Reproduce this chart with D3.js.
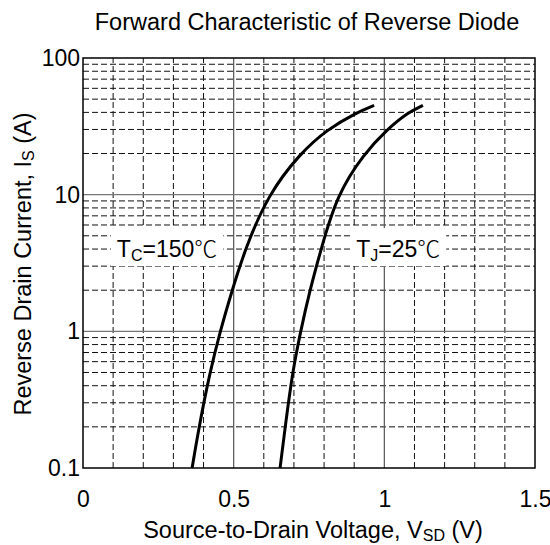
<!DOCTYPE html>
<html>
<head>
<meta charset="utf-8">
<script src="https://cdn.jsdelivr.net/npm/d3@7"></script>
<style>
  body { margin: 0; background: #fff; }
  text { font-family: Arial, "Liberation Sans", sans-serif; }
</style>
</head>
<body>
<script>
const width = 550
const height = 545
const margin = ({top: 58, right: 15, bottom: 77, left: 83})

// Tc = 150 C curve (V, A)
const hotV = [0.362, 0.385, 0.421, 0.455, 0.495, 0.538, 0.614, 0.72, 0.81, 0.909, 0.966]
const hotI = [0.1, 0.2, 0.5, 1, 2, 4, 10, 20, 30, 40, 45]
// Tj = 25 C curve (V, A)
const coldV = [0.654, 0.671, 0.695, 0.722, 0.753, 0.79, 0.843, 0.933, 1.009, 1.079, 1.128]
const coldI = [0.1, 0.2, 0.5, 1, 2, 4, 10, 20, 30, 40, 45]

const xTicks = [0, 0.5, 1, 1.5]
const xTickLabels = ["0", "0.5", "1", "1.5"]
const yTicks = [0.1, 1, 10, 100]
const yTickLabels = ["0.1", "1", "10", "100"]

const svg = d3.select("body").append("svg").attr("width", width).attr("height", height)

let x = d3.scaleLinear()
    .domain([0, 1.5])
    .range([margin.left, width - margin.right])

let y = d3.scaleLog()
    .domain([0.1, 100])
    .range([height - margin.bottom, margin.top])

// grid
const minorX = d3.range(1, 15).map(i => i / 10).filter(v => Math.abs(v - 0.5) > 1e-6 && Math.abs(v - 1) > 1e-6)
const minorY = []
;[0.1, 1, 10].forEach(d => { for (let k = 2; k <= 9; k++) minorY.push(d * k) })

const grid = svg.append("g")

grid.selectAll(".vminor").data(minorX).join("line")
    .attr("x1", d => x(d)).attr("x2", d => x(d))
    .attr("y1", y(0.1)).attr("y2", y(100))
    .attr("stroke", "#111").attr("stroke-width", 1).attr("stroke-dasharray", "6,3")

grid.selectAll(".hminor").data(minorY).join("line")
    .attr("x1", x(0)).attr("x2", x(1.5))
    .attr("y1", d => y(d)).attr("y2", d => y(d))
    .attr("stroke", "#111").attr("stroke-width", 1).attr("stroke-dasharray", "6,3")

grid.selectAll(".vmajor").data([0.5, 1]).join("line")
    .attr("x1", d => x(d)).attr("x2", d => x(d))
    .attr("y1", y(0.1)).attr("y2", y(100))
    .attr("stroke", "#555").attr("stroke-width", 1.2)

grid.selectAll(".hmajor").data([1, 10]).join("line")
    .attr("x1", x(0)).attr("x2", x(1.5))
    .attr("y1", d => y(d)).attr("y2", d => y(d))
    .attr("stroke", "#777").attr("stroke-width", 1.2)

// annotations with white boxes
function label(g, vx, iy, main, sub, rest) {
    const t = g.append("text")
        .attr("x", x(vx)).attr("y", y(iy))
        .attr("dy", "0.35em")
        .attr("text-anchor", "middle")
        .attr("font-size", 23)
        .attr("fill", "#000")
    t.append("tspan").text(main)
    t.append("tspan").attr("font-size", 16).attr("dy", 4).text(sub)
    t.append("tspan").attr("dy", -4).text(rest)
    t.append("tspan").attr("font-family", "'Noto Sans CJK SC', sans-serif").attr("font-weight", 300).text("\u2103")
    const b = t.node().getBBox()
    g.insert("rect", "text")
        .attr("x", b.x - 6).attr("y", b.y - 2)
        .attr("width", b.width + 12).attr("height", b.height + 4)
        .attr("fill", "#fff")
}

const ann = svg.append("g")
label(ann.append("g"), 0.279, 4, "T", "C", "=150")
label(ann.append("g"), 1.046, 4, "T", "J", "=25")

// curves
const line = d3.line()
    .x(d => x(d[0]))
    .y(d => y(d[1]))
    .curve(d3.curveBasis)

svg.append("path")
    .datum(hotV.map((v, i) => [v, hotI[i]]))
    .attr("fill", "none").attr("stroke", "#000").attr("stroke-width", 3)
    .attr("d", line)

svg.append("path")
    .datum(coldV.map((v, i) => [v, coldI[i]]))
    .attr("fill", "none").attr("stroke", "#000").attr("stroke-width", 3)
    .attr("d", line)

// frame
svg.append("rect")
    .attr("x", x(0)).attr("y", y(100))
    .attr("width", x(1.5) - x(0)).attr("height", y(0.1) - y(100))
    .attr("fill", "none").attr("stroke", "#000").attr("stroke-width", 1.5)

// axes
let xAxis = g => g
    .attr("transform", `translate(0,${height - margin.bottom})`)
    .call(d3.axisBottom(x).tickValues(xTicks).tickFormat((d, i) => xTickLabels[i]).tickSize(0).tickPadding(23))
    .call(g => g.select(".domain").remove())
    .call(g => g.selectAll("text").attr("font-size", 23).attr("fill", "#000").attr("font-family", "Arial, 'Liberation Sans', sans-serif"))

let yAxis = g => g
    .attr("transform", `translate(${margin.left},0)`)
    .call(d3.axisLeft(y).tickValues(yTicks).tickFormat((d, i) => yTickLabels[i]).tickSize(0).tickPadding(3))
    .call(g => g.select(".domain").remove())
    .call(g => g.selectAll("text").attr("font-size", 23).attr("fill", "#000").attr("font-family", "Arial, 'Liberation Sans', sans-serif"))

svg.append("g").call(xAxis)
svg.append("g").call(yAxis)

// titles
svg.append("text")
    .attr("x", 307).attr("y", 30)
    .attr("text-anchor", "middle").attr("font-size", 23.5)
    .text("Forward Characteristic of Reverse Diode")

const xt = svg.append("text")
    .attr("x", 313).attr("y", 538)
    .attr("text-anchor", "middle").attr("font-size", 23.5)
xt.append("tspan").text("Source-to-Drain Voltage, V")
xt.append("tspan").attr("font-size", 16).attr("dy", 3).text("SD")
xt.append("tspan").attr("dy", -3).text(" (V)")

const yt = svg.append("text")
    .attr("transform", `translate(31,264) rotate(-90)`)
    .attr("text-anchor", "middle").attr("font-size", 23.5)
yt.append("tspan").text("Reverse Drain Current, I")
yt.append("tspan").attr("font-size", 16).attr("dy", 3).text("S")
yt.append("tspan").attr("dy", -3).text(" (A)")
</script>
</body>
</html>
